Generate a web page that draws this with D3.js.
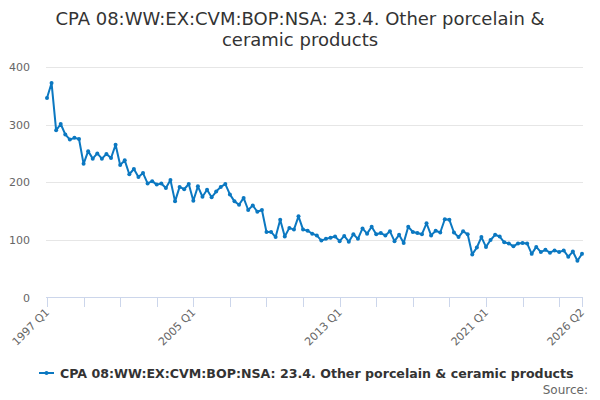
<!DOCTYPE html>
<html>
<head>
<meta charset="utf-8">
<script src="https://cdn.jsdelivr.net/npm/d3@7"></script>
<style>
  body { margin: 0; background: #fff; }
  text { font-family: "DejaVu Sans", sans-serif; }
</style>
</head>
<body>
<script>
// quarterly series, 1997 Q1 .. 2026 Q2
var firstYear = 1997;
var values = [
  346, 372, 290, 301, 283, 274, 277, 275, 232, 254,
  241, 250, 241, 249, 242, 265, 230, 238, 214, 223,
  209, 216, 198, 202, 196, 198, 190, 204, 167, 192,
  188, 197, 168, 193, 175, 187, 174, 184, 192, 197,
  179, 167, 161, 173, 152, 160, 149, 152, 114, 114,
  105, 135, 106, 121, 118, 141, 118, 116, 111, 108,
  99, 102, 104, 106, 98, 107, 97, 110, 102, 120,
  111, 123, 110, 112, 108, 115, 98, 109, 95, 123,
  114, 112, 110, 129, 108, 116, 113, 136, 135, 113,
  105, 115, 110, 75, 87, 105, 88, 100, 109, 106,
  96, 94, 89, 94, 95, 94, 76, 88, 79, 83,
  78, 82, 79, 82, 71, 80, 64, 76
];
var yTicks = [0, 100, 200, 300, 400];
var xLabels = ["1997 Q1", "2005 Q1", "2013 Q1", "2021 Q1", "2026 Q2"];
var seriesName = "CPA 08:WW:EX:CVM:BOP:NSA: 23.4. Other porcelain & ceramic products";
var titleLines = ["CPA 08:WW:EX:CVM:BOP:NSA: 23.4. Other porcelain &", "ceramic products"];

var categories = values.map(function(d, i) {
  return (firstYear + Math.floor(i / 4)) + " Q" + (i % 4 + 1);
});
// ticks every 2 years plus the last quarter
var tickCats = categories.filter(function(c, i) { return i % 8 === 0 || i === categories.length - 1; });

var svg = d3.select("body").append("svg")
    .attr("width", 600)
    .attr("height", 400);

var x = d3.scalePoint().domain(categories).range([47, 582]);
var y = d3.scaleLinear().domain([0, 400]).range([297.7, 66.9]);

// title
svg.selectAll(".title")
    .data(titleLines)
    .enter().append("text")
    .attr("x", 300)
    .attr("y", function(d, i) { return 25 + i * 21; })
    .attr("text-anchor", "middle")
    .style("font-size", "18px")
    .style("fill", "#333")
    .text(function(d) { return d; });

// gridlines + y labels
svg.append("g").selectAll("line")
    .data(yTicks.filter(function(d) { return d > 0; }))
    .enter().append("line")
    .attr("x1", 46).attr("x2", 583)
    .attr("y1", function(d) { return Math.round(y(d)) + 0.5; })
    .attr("y2", function(d) { return Math.round(y(d)) + 0.5; })
    .attr("stroke", "#e6e6e6");

svg.append("g").selectAll("text")
    .data(yTicks)
    .enter().append("text")
    .attr("x", 30)
    .attr("y", function(d) { return y(d) + 4; })
    .attr("text-anchor", "end")
    .style("font-size", "11px")
    .style("fill", "#666")
    .text(function(d) { return d; });

// x axis
var xAxis = svg.append("g");
xAxis.append("line")
    .attr("x1", 46).attr("x2", 583)
    .attr("y1", 297.5).attr("y2", 297.5)
    .attr("stroke", "#ccd6eb");
xAxis.selectAll(".tick")
    .data(tickCats)
    .enter().append("line")
    .attr("x1", function(d) { return Math.round(x(d)) + 0.5; })
    .attr("x2", function(d) { return Math.round(x(d)) + 0.5; })
    .attr("y1", 297.5).attr("y2", 307)
    .attr("stroke", "#ccd6eb");
xAxis.selectAll(".lbl")
    .data(xLabels)
    .enter().append("text")
    .attr("text-anchor", "end")
    .attr("transform", function(d) { return "translate(" + (x(d) + 3) + ",313) rotate(-45)"; })
    .style("font-size", "11px")
    .style("fill", "#666")
    .text(function(d) { return d; });

// series
var line = d3.line()
    .x(function(d, i) { return x(categories[i]); })
    .y(function(d) { return y(d); });

svg.append("path")
    .datum(values)
    .attr("d", line)
    .attr("fill", "none")
    .attr("stroke", "#0b78c1")
    .attr("stroke-width", 2)
    .attr("stroke-linejoin", "round");

svg.append("g").selectAll("circle")
    .data(values)
    .enter().append("circle")
    .attr("cx", function(d, i) { return x(categories[i]); })
    .attr("cy", function(d) { return y(d); })
    .attr("r", 2)
    .attr("fill", "#0b78c1");

// legend
var legend = svg.append("g");
legend.append("line")
    .attr("x1", 39).attr("x2", 54)
    .attr("y1", 373).attr("y2", 373)
    .attr("stroke", "#0b78c1").attr("stroke-width", 2);
legend.append("circle")
    .attr("cx", 46.5).attr("cy", 373).attr("r", 2)
    .attr("fill", "#0b78c1");
legend.append("text")
    .attr("x", 60).attr("y", 377.5)
    .style("font-size", "12.6px")
    .style("font-weight", "bold")
    .style("fill", "#333")
    .text(seriesName);

svg.append("text")
    .attr("x", 588).attr("y", 394)
    .attr("text-anchor", "end")
    .style("font-size", "12px")
    .style("fill", "#666")
    .text("Source:");
</script>
</body>
</html>
